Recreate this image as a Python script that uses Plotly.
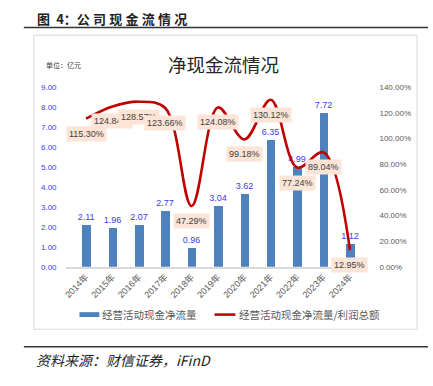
import plotly.graph_objects as go

years = ["2014年", "2015年", "2016年", "2017年", "2018年", "2019年",
         "2020年", "2021年", "2022年", "2023年", "2024年"]
cash_flow = [2.11, 1.96, 2.07, 2.77, 0.96, 3.04, 3.62, 6.35, 4.99, 7.72, 1.12]
ratio = [1.1530, 1.2484, 1.2857, 1.2366, 0.4729, 1.2408, 0.9918, 1.3012, 0.7724, 0.8904, 0.1295]

left_ticks = [0, 1, 2, 3, 4, 5, 6, 7, 8, 9]
right_ticks = [0, 0.2, 0.4, 0.6, 0.8, 1.0, 1.2, 1.4]

W, H = 433, 386
def px(x):
    return x / W
def py(y):
    return (H - y) / H

NUM_FONT = "Liberation Sans, Noto Sans CJK SC"
CJK = "Noto Sans CJK SC"

fig = go.Figure()
fig.add_trace(go.Bar(
    x=years, y=cash_flow, name="经营活动现金净流量",
    marker=dict(color="#4F81BD", line=dict(width=0)),
    width=0.32,
    texttemplate="%{y:.2f}", textposition="outside",
    constraintext="none",
    textfont=dict(color="#3b3bf5", size=9, family=NUM_FONT),
    cliponaxis=False, showlegend=False,
))
fig.add_trace(go.Scatter(
    x=years, y=ratio, yaxis="y2", mode="lines",
    name="经营活动现金净流量/利润总额",
    line=dict(color="#C00000", width=2.6, shape="spline", smoothing=1.0),
    showlegend=False,
))

# data labels for ratio line
for xv, rv in zip(years, ratio):
    fig.add_annotation(
        x=xv, y=rv, xref="x", yref="y2", yshift=-15,
        text=f"{rv*100:.2f}%", showarrow=False,
        bgcolor="#FCE4D6", borderpad=2,
        font=dict(size=9, color="#404040", family=NUM_FONT),
    )

shapes = [
    # header rule
    dict(type="line", xref="paper", yref="paper", x0=px(21), x1=px(428), y0=py(24), y1=py(24),
         line=dict(color="#333333", width=1.5)),
    # chart box
    dict(type="rect", xref="paper", yref="paper", x0=px(31), x1=px(417), y0=py(333), y1=py(32),
         line=dict(color="#d9d9d9", width=1)),
    # bottom rule
    dict(type="line", xref="paper", yref="paper", x0=px(21), x1=px(428), y0=py(351), y1=py(351),
         line=dict(color="#333333", width=1.5)),
    # legend swatches
    dict(type="rect", xref="paper", yref="paper", x0=px(77), x1=px(97), y0=py(320.5), y1=py(315.5),
         fillcolor="#4F81BD", line=dict(width=0)),
    dict(type="line", xref="paper", yref="paper", x0=px(213), x1=px(234), y0=py(318), y1=py(318),
         line=dict(color="#C00000", width=2.5)),
]

sp = "\u2005"
header = "图" + sp + " 4：" + sp.join("公司现金流情况")
annotations_extra = [
    dict(text="<b>" + header + "</b>", x=px(32), y=py(15), xanchor="left", yanchor="middle",
         font=dict(size=13, color="#222222", family=CJK)),
    dict(text="净现金流情况", x=px(222), y=py(61), xanchor="center", yanchor="middle",
         font=dict(size=18.5, color="#262626", family=CJK)),
    dict(text="单位：亿元", x=px(41), y=py(62), xanchor="left", yanchor="middle",
         font=dict(size=7, color="#404040", family=CJK)),
    dict(text="经营活动现金净流量", x=px(98), y=py(318), xanchor="left", yanchor="middle",
         font=dict(size=10.5, color="#595959", family=CJK)),
    dict(text="经营活动现金净流量/利润总额", x=px(236), y=py(318), xanchor="left", yanchor="middle",
         font=dict(size=10.5, color="#595959", family=CJK)),
    dict(text="<i>资料来源：财信证券，iFinD</i>", x=px(31), y=py(364), xanchor="left", yanchor="middle",
         font=dict(size=14, color="#222222", family="Noto Sans CJK SC")),
]
for a in annotations_extra:
    fig.add_annotation(xref="paper", yref="paper", showarrow=False, **a)

fig.update_layout(
    width=W, height=H,
    margin=dict(l=0, r=0, t=0, b=0),
    paper_bgcolor="white", plot_bgcolor="white",
    shapes=shapes,
    bargap=0.0,
    xaxis=dict(
        domain=[px(63), px(368)],
        type="category",
        tickangle=-45,
        tickfont=dict(size=9, color="#595959", family=NUM_FONT),
        showline=True, linecolor="#d9d9d9", linewidth=1.5,
        showgrid=False, ticks="", zeroline=False,
    ),
    yaxis=dict(
        domain=[py(269), py(85)],
        range=[0, 9], tickvals=left_ticks, tickformat=".2f",
        tickfont=dict(size=8, color="#3b3bf5", family=NUM_FONT),
        showgrid=False, zeroline=False, showline=False, ticks="",
        ticklabelstandoff=8,
    ),
    yaxis2=dict(
        overlaying="y", side="right",
        range=[0, 1.4], tickvals=right_ticks, tickformat=".2%",
        tickfont=dict(size=8, color="#595959", family=NUM_FONT),
        showgrid=False, zeroline=False, showline=False, ticks="",
        ticklabelstandoff=10,
    ),
)

fig.write_html(
    "out.html",
    config={"displayModeBar": False},
    post_script="document.body.style.margin='0';document.body.style.padding='0';document.documentElement.style.overflow='hidden';",
)
